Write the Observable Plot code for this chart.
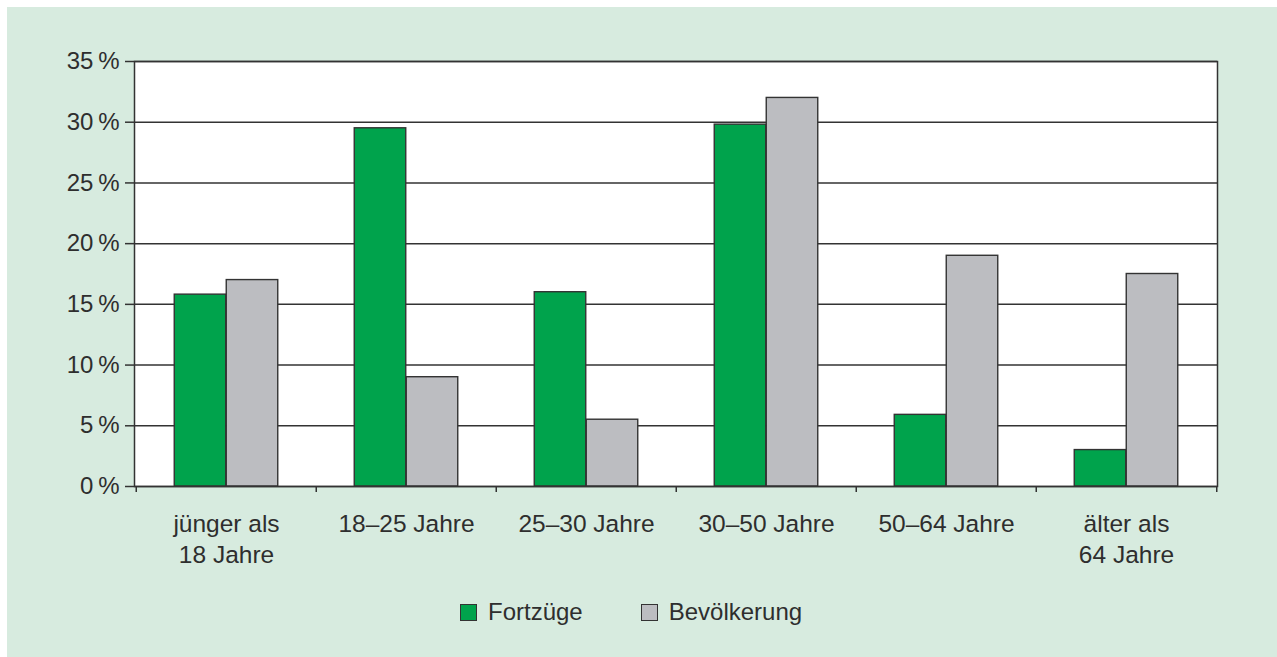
<!DOCTYPE html>
<html>
<head>
<meta charset="utf-8">
<script src="https://cdn.jsdelivr.net/npm/d3@7"></script>
<script src="https://cdn.jsdelivr.net/npm/@observablehq/plot@0.6"></script>
<style>
  html, body { margin: 0; padding: 0; background: #ffffff; }
  #card { position: absolute; left: 7px; top: 7px; width: 1270px; height: 650px; background: #d7ebdf; overflow: hidden; }
  #legend { display: flex; align-items: center; margin-top: 11px; padding-left: 453px; font-family: "Liberation Sans", Arial, sans-serif; font-size: 24px; color: #2e2e2e; }
  .sw { width: 15px; height: 15px; border: 1px solid #333; box-sizing: content-box; margin-right: 11px; }
  .item { display: flex; align-items: center; }
</style>
</head>
<body>
<div id="card"><div id="chart"></div><div id="legend"></div></div>
<script>
// --- data ---
const categories = ["jünger als\n18 Jahre", "18–25 Jahre", "25–30 Jahre", "30–50 Jahre", "50–64 Jahre", "älter als\n64 Jahre"];
const seriesNames = ["Fortzüge", "Bevölkerung"];
const fortzuege = [15.8, 29.5, 16.0, 29.8, 5.9, 3.0];
const bevoelkerung = [17.0, 9.0, 5.5, 32.0, 19.0, 17.5];
const yTicks = [0, 5, 10, 15, 20, 25, 30, 35];

const colors = {"Fortzüge": "#00a34c", "Bevölkerung": "#bcbdc1"};

const W = 1270, H = 580;
const mL = 127, mR = 60, mT = 54, mB = 101;
const bw = (W - mL - mR) / categories.length;
const outer = 38.25;
const half = bw / 2;

const dataF = categories.map((c, i) => ({cat: c, value: fortzuege[i]}));
const dataB = categories.map((c, i) => ({cat: c, value: bevoelkerung[i]}));

const ink = "#333";
const plot = Plot.plot({
  width: W,
  height: H,
  marginLeft: mL,
  marginRight: mR,
  marginTop: mT,
  marginBottom: mB,
  style: {background: "transparent", fontFamily: "Liberation Sans, Arial, sans-serif", fontSize: "24.5px", color: "#2e2e2e", overflow: "visible"},
  x: {domain: categories, padding: 0, label: null},
  y: {domain: [0, 35], label: null},
  marks: [
    Plot.frame({fill: "white", stroke: null}),
    Plot.ruleY(yTicks, {stroke: ink, strokeWidth: 1.5}),
    Plot.barY(dataF, {x: "cat", y: "value", fill: colors["Fortzüge"], stroke: ink, strokeWidth: 1.4, insetLeft: outer, insetRight: half}),
    Plot.barY(dataB, {x: "cat", y: "value", fill: colors["Bevölkerung"], stroke: ink, strokeWidth: 1.4, insetLeft: half, insetRight: outer}),
    Plot.frame({stroke: ink, strokeWidth: 1.5}),
    Plot.axisY(yTicks, {tickSize: 9, tickPadding: 6, fontSize: 24, tickFormat: d => d + "\u202F%", label: null, stroke: ink, strokeWidth: 1.5}),
    Plot.axisX(categories, {tickSize: 6, tickFormat: () => "", dx: -half, label: null, stroke: ink, strokeWidth: 1.5}),
    Plot.axisX([categories[categories.length - 1]], {tickSize: 6, tickFormat: () => "", dx: half, label: null, stroke: ink, strokeWidth: 1.5}),
    Plot.axisX(categories, {tickSize: 0, tickPadding: 24, lineHeight: 1.25, label: null})
  ]
});
document.getElementById("chart").appendChild(plot);

const legend = document.getElementById("legend");
seriesNames.forEach((name, i) => {
  const item = document.createElement("div");
  item.className = "item";
  if (i > 0) item.style.marginLeft = "58px";
  const sw = document.createElement("div");
  sw.className = "sw";
  sw.style.background = colors[name];
  const label = document.createElement("span");
  label.textContent = name;
  item.appendChild(sw);
  item.appendChild(label);
  legend.appendChild(item);
});
</script>
</body>
</html>
